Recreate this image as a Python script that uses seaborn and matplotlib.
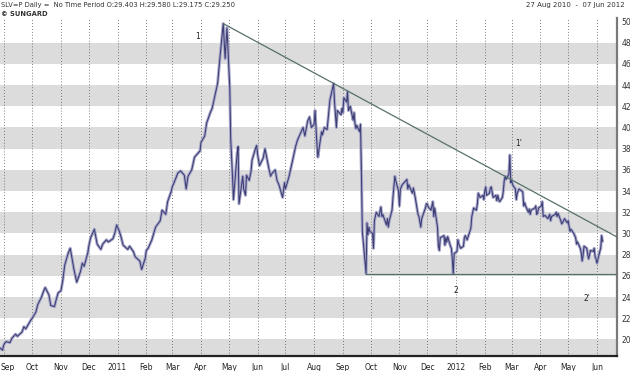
import numpy as np
import pandas as pd
import matplotlib
matplotlib.use("Agg")
import matplotlib.pyplot as plt
import matplotlib.dates as mdates
from matplotlib.ticker import FuncFormatter
from matplotlib.transforms import ScaledTranslation
import seaborn as sns

# price readings, month by month (first and last month are partial)
first_day = "2010-08-27"
last_day = "2012-06-07"
months = ["2010-08", "2010-09", "2010-10", "2010-11", "2010-12",
          "2011-01", "2011-02", "2011-03", "2011-04", "2011-05", "2011-06",
          "2011-07", "2011-08", "2011-09", "2011-10", "2011-11", "2011-12",
          "2012-01", "2012-02", "2012-03", "2012-04", "2012-05", "2012-06"]

p_2010_08 = [19.2, 19.0, 19.4]
p_2010_09 = [19.6, 19.8, 19.7, 20.1, 20.5, 20.3, 20.7, 21.2, 21.0, 21.6, 21.9]
p_2010_10 = [22.0, 22.6, 23.3, 24.0, 24.5, 24.9, 24.2, 23.2, 23.1, 23.8, 24.4]
p_2010_11 = [24.6, 25.6, 27.0, 28.2, 28.6, 26.6, 25.4, 26.4, 27.2, 26.9, 28.2]
p_2010_12 = [28.8, 29.6, 30.4, 29.0, 28.5, 29.0, 29.4, 29.2, 29.5, 30.0, 30.8]
p_2011_01 = [30.2, 29.6, 28.9, 28.5, 28.8, 28.3, 27.8, 27.4, 26.6, 27.7]
p_2011_02 = [28.4, 28.6, 29.4, 30.0, 30.6, 31.2, 32.2, 31.8, 33.0, 34.0]
p_2011_03 = [34.4, 34.8, 35.7, 35.9, 35.5, 34.2, 35.4, 36.0, 37.2, 37.6, 37.8]
p_2011_04 = [38.6, 39.2, 40.4, 41.4, 41.8, 42.6, 44.2, 46.2, 49.8, 46.5, 49.4]
p_2011_05 = [43.8, 39.0, 35.3, 33.2, 37.6, 38.2, 32.8, 35.4, 34.2, 33.6, 35.5,
             35.0, 35.9, 36.9, 38.1, 38.3]
p_2011_06 = [37.5, 36.4, 37.1, 38.0, 36.2, 35.4, 35.6, 36.0, 35.0, 34.6, 33.4, 34.8]
p_2011_07 = [34.2, 35.4, 36.2, 36.6, 38.2, 38.8, 39.6, 40.0, 39.2, 40.6, 41.0, 40.0]
p_2011_08 = [40.3, 41.6, 38.4, 37.2, 39.6, 39.3, 40.0, 39.8, 41.6, 42.6, 44.15,
             42.4, 40.0, 41.6, 41.2, 41.8]
p_2011_09 = [41.4, 42.8, 42.4, 43.4, 41.6, 42.0, 40.7, 41.4, 40.4, 39.9, 40.2,
             39.6, 40.3, 35.6, 30.2, 26.2, 31.0, 29.9, 30.6, 30.2]
p_2011_10 = [30.0, 28.6, 31.2, 32.0, 31.6, 32.1, 32.5, 31.6, 31.8, 30.8, 31.4,
             30.6, 31.2, 32.2, 33.4, 35.4, 35.0, 34.0]
p_2011_11 = [32.6, 34.2, 34.6, 34.9, 35.1, 34.2, 34.6, 33.8, 34.3, 33.4, 31.8,
             31.6, 30.6, 31.4, 32.4, 32.8]
p_2011_12 = [32.8, 32.5, 32.2, 32.6, 33.0, 31.6, 32.4, 30.6, 28.8, 28.4, 29.6,
             29.8, 28.9, 29.6, 29.2, 29.7, 28.8, 28.6, 27.6, 26.2, 28.1]
p_2012_01 = [28.3, 29.4, 29.0, 28.6, 28.8, 29.6, 29.8, 29.4, 30.2, 30.5, 31.6,
             32.4, 32.2, 32.8, 33.8, 33.4, 33.6, 33.2]
p_2012_02 = [34.0, 34.4, 33.6, 33.8, 34.3, 34.4, 33.9, 33.4, 33.6, 33.1, 33.6,
             33.2, 33.0, 33.4, 34.0, 35.0, 35.4, 35.1, 35.6, 37.4, 34.8]
p_2012_03 = [35.0, 34.6, 34.2, 33.2, 33.8, 34.2, 34.0, 33.9, 32.6, 32.9, 32.6,
             32.0, 32.3, 31.8, 32.2, 32.4, 32.6, 31.8, 31.9, 32.4]
p_2012_04 = [32.6, 33.0, 31.6, 31.7, 31.4, 31.6, 31.8, 31.2, 31.6, 31.8, 32.0,
             31.6, 31.9, 31.2, 30.9, 31.2, 31.4, 31.0]
p_2012_05 = [31.2, 30.6, 30.2, 30.4, 30.0, 29.6, 29.0, 29.2, 28.6, 28.2, 27.4,
             27.9, 28.8, 28.6, 28.0, 27.6, 28.4, 28.3, 28.6, 27.8, 27.6]
p_2012_06 = [27.2, 28.3, 28.6, 29.8, 29.25]

series = [p_2010_08, p_2010_09, p_2010_10, p_2010_11, p_2010_12,
          p_2011_01, p_2011_02, p_2011_03, p_2011_04, p_2011_05, p_2011_06,
          p_2011_07, p_2011_08, p_2011_09, p_2011_10, p_2011_11, p_2011_12,
          p_2012_01, p_2012_02, p_2012_03, p_2012_04, p_2012_05, p_2012_06]

header = "SLV=P Daily =  No Time Period O:29.403 H:29.580 L:29.175 C:29.250"
source = "\u00a9 SUNGARD"
period = "27 Aug 2010  -  07 Jun 2012"
y_ticks = list(range(20, 51, 2))

# spread each month's readings over that month's trading days
rows = []
for m, vals in zip(months, series):
    start = pd.Timestamp(m + "-01")
    days = pd.bdate_range(start, start + pd.offsets.MonthEnd(0))
    days = days[(days >= first_day) & (days <= last_day)]
    idx = np.round(np.linspace(0, len(days) - 1, len(vals))).astype(int)
    for i, v in zip(idx, vals):
        rows.append((days[i], v))
df = pd.DataFrame(rows, columns=["date", "price"])

sns.set_style("white")
plt.rcParams["font.family"] = ["DejaVu Sans"]

fig = plt.figure(figsize=(6.3, 3.71), dpi=100)
ax = fig.add_axes([0.0, 15 / 371, 617 / 630, 338 / 371])

x0 = pd.Timestamp("2010-08-27 06:00")
x1 = pd.Timestamp("2012-06-22 14:00")
ax.set_xlim(x0, x1)
ax.set_ylim(18.44, 50.33)

for lo in range(18, 50, 4):
    ax.axhspan(lo, lo + 2, color="#dcdcdc", lw=0, zorder=0)

sns.lineplot(data=df, x="date", y="price", ax=ax, color="#a9a9cb", lw=2.2,
             estimator=None, zorder=3)
sns.lineplot(data=df, x="date", y="price", ax=ax, color="#3b3c72", lw=0.75,
             estimator=None, zorder=4)

# resistance line: April 2011 top through the August 2011 top
top1 = df.loc[df["price"].idxmax()]
aug = df[(df["date"] >= "2011-08-01") & (df["date"] < "2011-09-01")]
top2 = aug.loc[aug["price"].idxmax()]
slope = (top2["price"] - top1["price"]) / (top2["date"] - top1["date"]).days
end_val = top1["price"] + slope * (x1 - top1["date"]).days
ax.plot([top1["date"], x1], [top1["price"], end_val], color="#56706c",
        lw=0.9, zorder=5)

# support line from the September 2011 low
sep = df[(df["date"] >= "2011-09-01") & (df["date"] < "2011-10-01")]
low1 = sep.loc[sep["price"].idxmin()]
ax.plot([low1["date"], x1], [low1["price"], low1["price"]], color="#56706c",
        lw=0.9, zorder=5)

ax.text(pd.Timestamp("2011-03-28"), 48.6, "1", fontsize=5.5, color="#222",
        ha="center", va="center")
ax.text(pd.Timestamp("2012-03-09"), 38.5, "1'", fontsize=5.5, color="#222",
        ha="center", va="center")
ax.text(pd.Timestamp("2012-01-01"), 24.6, "2", fontsize=5.5, color="#222",
        ha="center", va="center")
ax.text(pd.Timestamp("2012-05-21"), 23.9, "2'", fontsize=5.5, color="#222",
        ha="center", va="center")

ax.xaxis.set_major_locator(mdates.MonthLocator())
ax.xaxis.set_major_formatter(FuncFormatter(
    lambda v, pos: mdates.num2date(v).strftime("%Y") if mdates.num2date(v).month == 1
    else mdates.num2date(v).strftime("%b")))
ax.grid(axis="x", color="#555555", lw=0.6, linestyle=(0, (1, 2.5)))
ax.grid(axis="y", visible=False)

ax.yaxis.tick_right()
ax.set_yticks(y_ticks)
ax.tick_params(axis="y", length=0, pad=3, labelsize=5.5, colors="#333333")
ax.tick_params(axis="x", direction="out", length=3, width=0.9, color="#222",
               pad=2, labelsize=5.5, labelcolor="#222")
ax.set_xlabel("")
ax.set_ylabel("")

# the first month label sits flush with the left edge
fig.canvas.draw()
first_lbl = ax.xaxis.get_major_ticks()[0].label1
first_lbl.set_horizontalalignment("left")
first_lbl.set_transform(first_lbl.get_transform()
                        + ScaledTranslation(-4 / 100, 0, fig.dpi_scale_trans))

for s in ["left", "top"]:
    ax.spines[s].set_visible(False)
ax.spines["right"].set_color("#7a7a7a")
ax.spines["right"].set_linewidth(1.6)
ax.spines["bottom"].set_color("#222222")
ax.spines["bottom"].set_linewidth(1.6)

fig.text(1 / 630, 1 - 4.5 / 371, header, fontsize=4.9, color="#333",
         ha="left", va="center")
fig.text(1 / 630, 1 - 13.5 / 371, source, fontsize=4.9, color="#333",
         ha="left", va="center", fontweight="bold")
fig.text(625 / 630, 1 - 4.5 / 371, period, fontsize=5.0, color="#333",
         ha="right", va="center")

fig.savefig("out.png", dpi=100)
